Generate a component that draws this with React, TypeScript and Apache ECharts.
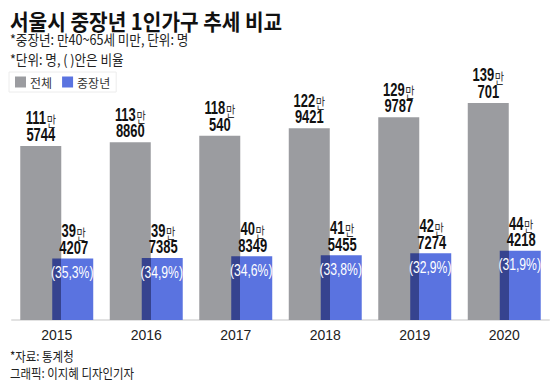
import React, { useEffect, useRef } from "react";
import * as echarts from "echarts";

const years = ["2015", "2016", "2017", "2018", "2019", "2020"];
const totalHouseholds = [1115744, 1138860, 1180540, 1229421, 1299787, 1390701];
const middleAgedHouseholds = [394207, 397385, 408349, 415455, 427274, 444218];
const middleAgedRatio = ["35,3", "34,9", "34,6", "33,8", "32,9", "31,9"];

const titleText = "서울시 중장년 1인가구 추세 비교";
const noteLines = ["*중장년: 만40~65세 미만, 단위: 명", "*단위: 명, ( )안은 비율"];
const sourceLines = ["*자료: 통계청", "그래픽: 이지혜 디자인기자"];
const seriesNames = ["전체", "중장년"];

const ARIAL = '"Liberation Sans", Arial, sans-serif';
const KR = '"Noto Sans CJK KR", "Noto Sans", sans-serif';

const GRAY = "#9b9ca0";
const BLUE = "#5a73e0";
const DARK = "#36438f";

function splitMan(v: number) {
  return { man: Math.floor(v / 10000), rest: v % 10000 };
}

const numRich = {
  n: { fontFamily: ARIAL, fontSize: 18, fontWeight: "bold", fill: "#111", color: "#111", lineHeight: 18 },
  m: {
    fontFamily: KR,
    fontSize: 14,
    fill: "#333",
    color: "#333",
    lineHeight: 18,
    verticalAlign: "bottom",
    padding: [1, 0, 0, 1],
  },
};

function numberText(x: number, y: number, text: string) {
  return {
    type: "text",
    x,
    y,
    scaleX: 0.72,
    style: { text, rich: numRich, align: "center", verticalAlign: "middle", fill: "#111" },
  };
}

export default function App() {
  const ref = useRef<HTMLDivElement>(null);
  useEffect(() => {
    if (!ref.current) return;
    const chart = echarts.init(ref.current, null, { renderer: "svg" });
    const labelData = years.map((_, i) => [i, totalHouseholds[i], middleAgedHouseholds[i]]);
    chart.setOption({
      animation: false,
      grid: { left: 12, right: 11, top: 86, bottom: 67 },
      legend: {
        left: 9,
        top: 72,
        padding: [4, 6, 4, 6],
        borderColor: "#ececec",
        borderWidth: 1,
        itemWidth: 11,
        itemHeight: 11,
        itemGap: 10,
        icon: "rect",
        textStyle: { fontFamily: KR, fontSize: 12, color: "#333", padding: [0, 0, 0, -1] },
        data: [
          { name: seriesNames[0], itemStyle: { color: GRAY } },
          { name: seriesNames[1], itemStyle: { color: BLUE } },
        ],
      },
      xAxis: {
        type: "category",
        data: years,
        axisTick: { show: false },
        axisLine: { show: true, lineStyle: { color: "#e2e2e2", width: 2 } },
        axisLabel: { fontFamily: ARIAL, fontSize: 14, color: "#222", margin: 8 },
      },
      yAxis: {
        type: "value",
        min: 0,
        max: 1500000,
        show: false,
        splitLine: { show: false },
      },
      series: [
        {
          name: seriesNames[0],
          type: "bar",
          data: totalHouseholds,
          barWidth: 41,
          barGap: "-22%",
          itemStyle: { color: GRAY },
          z: 2,
        },
        {
          name: seriesNames[1],
          type: "bar",
          data: middleAgedHouseholds,
          barWidth: 41,
          barGap: "-22%",
          z: 3,
          itemStyle: {
            color: new echarts.graphic.LinearGradient(0, 0, 1, 0, [
              { offset: 0, color: DARK },
              { offset: 0.22, color: DARK },
              { offset: 0.22, color: BLUE },
              { offset: 1, color: BLUE },
            ]),
          },
        },
        {
          name: "labels",
          type: "custom",
          z: 5,
          clip: false,
          silent: true,
          data: labelData,
          renderItem: (params: any, api: any) => {
            const idx = api.value(0);
            const total = api.value(1);
            const middle = api.value(2);
            const band = api.size([1, 0])[0];
            const pTotal = api.coord([idx, total]);
            const pMiddle = api.coord([idx, middle]);
            const off = band * 0.178;
            const gx = pTotal[0] - off;
            const bx = pMiddle[0] + off;
            const t = splitMan(total);
            const m = splitMan(middle);
            return {
              type: "group",
              children: [
                numberText(gx, pTotal[1] - 28, `{n|${t.man}}{m|만}`),
                numberText(gx, pTotal[1] - 11.5, `{n|${t.rest}}`),
                numberText(bx + 1, pMiddle[1] - 27.5, `{n|${m.man}}{m|만}`),
                numberText(bx + 1, pMiddle[1] - 11, `{n|${m.rest}}`),
                {
                  type: "text",
                  x: bx - 0.5,
                  y: pMiddle[1] + 14,
                  scaleX: 0.76,
                  style: {
                    text: `(${middleAgedRatio[params.dataIndex]}%)`,
                    fontFamily: ARIAL,
                    fontSize: 16,
                    fill: "#ffffff",
                    align: "center",
                    verticalAlign: "middle",
                  },
                },
              ],
            };
          },
        },
      ],
      graphic: [
        {
          type: "text",
          x: 10,
          y: 9,
          scaleX: 0.92,
          style: { text: titleText, fontFamily: KR, fontSize: 22, fontWeight: "bold", fill: "#111" },
        },
        {
          type: "text",
          x: 10,
          y: 32,
          scaleX: 0.9,
          style: { text: noteLines[0], fontFamily: KR, fontSize: 14, fill: "#222" },
        },
        {
          type: "text",
          x: 10,
          y: 52,
          scaleX: 0.9,
          style: { text: noteLines[1], fontFamily: KR, fontSize: 14, fill: "#222" },
        },
        {
          type: "text",
          x: 10,
          y: 349,
          scaleX: 0.88,
          style: { text: sourceLines[0], fontFamily: KR, fontSize: 13, fill: "#222" },
        },
        {
          type: "text",
          x: 10,
          y: 366,
          scaleX: 0.88,
          style: { text: sourceLines[1], fontFamily: KR, fontSize: 13, fill: "#222" },
        },
      ],
    });
    return () => chart.dispose();
  }, []);
  return <div ref={ref} style={{ width: 560, height: 387, position: "absolute", left: 0, top: 0, background: "#fff" }} />;
}
